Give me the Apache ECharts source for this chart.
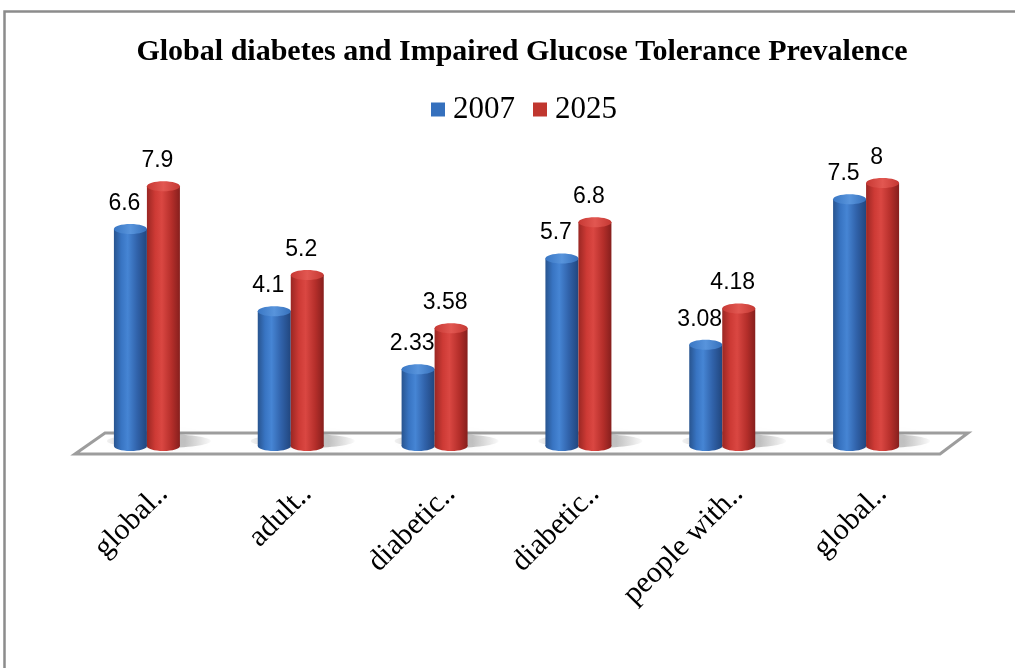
<!DOCTYPE html>
<html>
<head>
<meta charset="utf-8">
<script src="https://cdn.jsdelivr.net/npm/echarts@6/dist/echarts.min.js"></script>
<style>
  html, body { margin: 0; padding: 0; background: #fff; }
  #chart { width: 1015px; height: 668px; }
</style>
</head>
<body>
<div id="chart"></div>
<script>
// Category labels (truncated as in the source workbook) and the two year series
const categories = ['global..', 'adult..', 'diabetic..', 'diabetic..', 'people with..', 'global..'];
const values2007 = [6.6, 4.1, 2.33, 5.7, 3.08, 7.5];
const values2025 = [7.9, 5.2, 3.58, 6.8, 4.18, 8];
const seriesNames = ['2007', '2025'];

const GRID = { left: 75, right: 77, top: 150, bottom: 222 };
const BAR_W = 33;
const FLOOR_DEPTH = 21;   // vertical depth of the 3-D floor
const FLOOR_SKEW = 30;    // horizontal skew of the floor's back edge

const palettes = [
  {
    solid: '#3570bd',
    body: [[0, '#28548f'], [0.22, '#3874c2'], [0.42, '#4685d4'], [0.7, '#3163ab'], [1, '#21467e']],
    top: [[0, '#3a77c4'], [0.5, '#5894dc'], [1, '#3670bb']]
  },
  {
    solid: '#c0372f',
    body: [[0, '#9a2723'], [0.25, '#cd3a35'], [0.45, '#da4742'], [0.75, '#b42e2a'], [1, '#861f1d']],
    top: [[0, '#c73934'], [0.5, '#e25751'], [1, '#c43833']]
  }
];

function hGrad(stops) {
  return new echarts.graphic.LinearGradient(0, 0, 1, 0,
    stops.map(s => ({ offset: s[0], color: s[1] })));
}

// Draws one cylinder per category with its value label above the cap
function cylinder(seriesIndex) {
  const pal = palettes[seriesIndex];
  return function (params, api) {
    const idx = api.value(0);
    const val = api.value(1);
    const top = api.coord([idx, val]);
    const base = api.coord([idx, 0]);
    const rx = BAR_W / 2;
    const ry = 5;
    const cx = top[0] + (seriesIndex === 0 ? -rx : rx);
    const children = [];
    if (seriesIndex === 0) {
      // soft contact shadow under the pair, spreading mostly to the right
      children.push({
        type: 'ellipse',
        shape: { cx: top[0] + 12, cy: base[1] - 5, rx: 52, ry: 7 },
        style: {
          fill: new echarts.graphic.LinearGradient(0, 0, 1, 0, [
            { offset: 0, color: 'rgba(0,0,0,0.05)' },
            { offset: 0.25, color: 'rgba(0,0,0,0.22)' },
            { offset: 0.75, color: 'rgba(0,0,0,0.22)' },
            { offset: 1, color: 'rgba(0,0,0,0.02)' }
          ]),
          shadowBlur: 10,
          shadowColor: 'rgba(0,0,0,0.2)'
        }
      });
    }
    children.push({
      type: 'ellipse',
      shape: { cx: cx, cy: base[1], rx: rx, ry: ry },
      style: { fill: hGrad(pal.body) }
    });
    children.push({
      type: 'rect',
      shape: { x: cx - rx, y: top[1], width: BAR_W, height: base[1] - top[1] },
      style: { fill: hGrad(pal.body) }
    });
    children.push({
      type: 'ellipse',
      shape: { cx: cx, cy: top[1], rx: rx, ry: ry },
      style: { fill: hGrad(pal.top) }
    });
    children.push({
      type: 'text',
      style: {
        text: String(val),
        x: cx - 6,
        y: top[1] - ry - 9,
        align: 'center',
        verticalAlign: 'bottom',
        fontFamily: 'Liberation Sans, Arial, sans-serif',
        fontSize: 23,
        fill: '#000'
      }
    });
    return { type: 'group', children: children };
  };
}

const chart = echarts.init(document.getElementById('chart'), null, { renderer: 'canvas' });

const W = 1015, H = 668;
const gx0 = GRID.left, gx1 = W - GRID.right, gy = H - GRID.bottom;

chart.setOption({
  backgroundColor: '#fff',
  animation: false,
  title: {
    text: 'Global diabetes and Impaired Glucose Tolerance Prevalence',
    top: 32,
    left: 517,
    textAlign: 'center',
    textStyle: {
      fontFamily: 'Liberation Serif, Times New Roman, serif',
      fontWeight: 'bold',
      fontSize: 30,
      color: '#000'
    }
  },
  legend: {
    top: 89,
    left: 426,
    icon: 'rect',
    itemWidth: 14,
    itemHeight: 14,
    itemGap: 18,
    data: seriesNames,
    textStyle: {
      fontFamily: 'Liberation Serif, Times New Roman, serif',
      fontSize: 31,
      color: '#000',
      padding: [0, 0, 0, 3]
    }
  },
  graphic: [
    {
      type: 'rect',
      z: -10,
      shape: { x: 4.5, y: 11.5, width: 1030, height: 700 },
      style: { fill: '#fff', stroke: '#8c8c8c', lineWidth: 2.5 }
    },
    {
      type: 'polygon',
      z: -5,
      shape: {
        points: [
          [gx0, gy + 8],
          [gx0 + FLOOR_SKEW, gy + 8 - FLOOR_DEPTH],
          [gx1 + FLOOR_SKEW, gy + 8 - FLOOR_DEPTH],
          [gx1 + 2, gy + 8]
        ]
      },
      style: { fill: '#fff', stroke: '#9d9d9d', lineWidth: 3 }
    }
  ],
  grid: { left: GRID.left, right: GRID.right, top: GRID.top, bottom: GRID.bottom },
  xAxis: {
    type: 'category',
    data: categories,
    axisLine: { show: false },
    axisTick: { show: false },
    axisLabel: {
      interval: 0,
      rotate: 45,
      margin: 27,
      verticalAlign: 'top',
      lineHeight: 46,
      fontFamily: 'Liberation Serif, Times New Roman, serif',
      fontSize: 30,
      color: '#000'
    }
  },
  yAxis: {
    type: 'value',
    min: 0,
    max: 9,
    show: false,
    splitLine: { show: false }
  },
  series: [
    {
      name: seriesNames[0],
      type: 'custom',
      itemStyle: { color: palettes[0].solid },
      renderItem: cylinder(0),
      encode: { x: 0, y: 1 },
      data: values2007.map((v, i) => [i, v]),
      z: 2
    },
    {
      name: seriesNames[1],
      type: 'custom',
      itemStyle: { color: palettes[1].solid },
      renderItem: cylinder(1),
      encode: { x: 0, y: 1 },
      data: values2025.map((v, i) => [i, v]),
      z: 3
    }
  ]
});
</script>
</body>
</html>
